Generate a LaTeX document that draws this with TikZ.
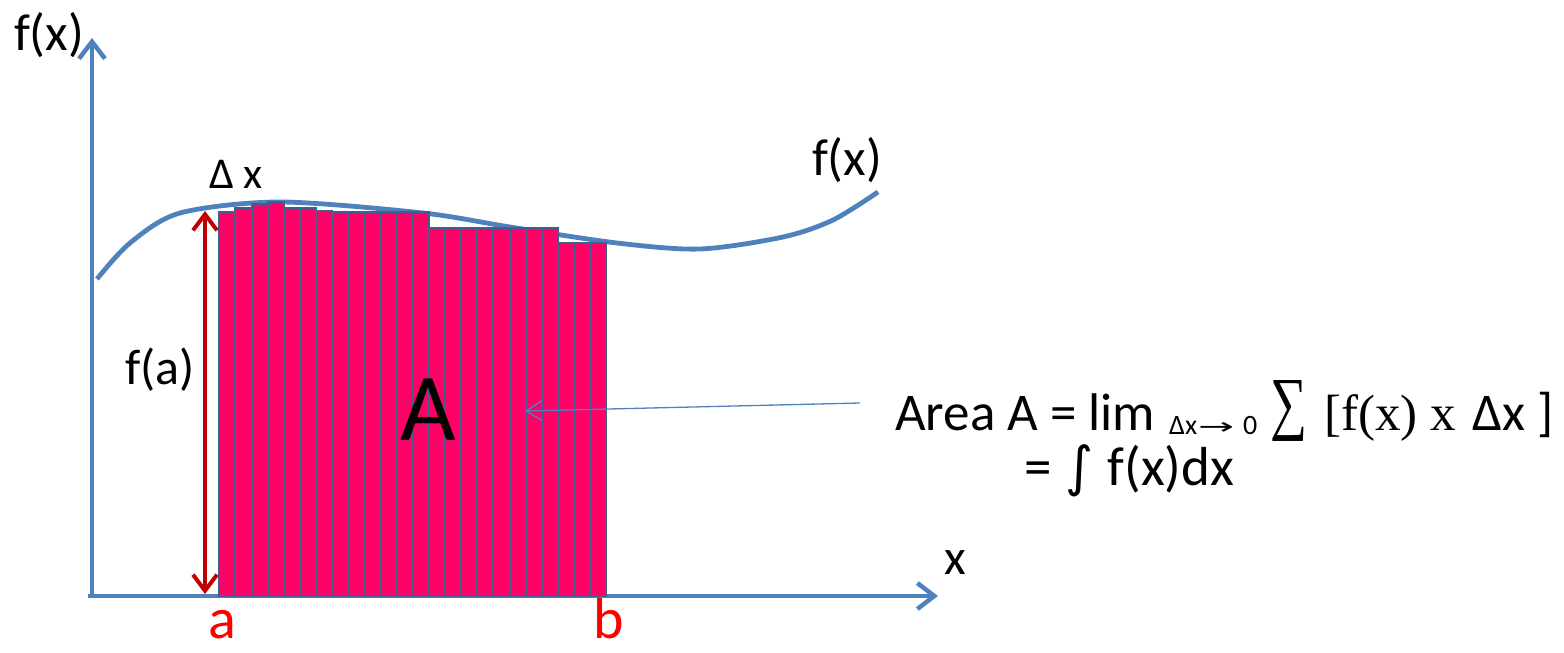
\documentclass[tikz,border=0pt]{standalone}
\usepackage{fontspec}
\usepackage{graphicx}
\setmainfont{Carlito}
\newfontfamily\tnr{Liberation Serif}
\newfontfamily\dv{DejaVu Sans}
\usetikzlibrary{arrows.meta}
\definecolor{axisblue}{HTML}{4F81BD}
\definecolor{barline}{HTML}{3F5F8F}
\definecolor{barfill}{HTML}{FF0066}
\definecolor{darkred}{HTML}{C00000}
\definecolor{labelred}{HTML}{FF0000}
\newcommand{\fsz}[1]{\fontsize{#1}{#1}\selectfont}
\tikzset{
  axis/.style={draw=axisblue, line width=4.5pt, -{Straight Barb[length=17pt, width=26pt]}},
  curve/.style={draw=axisblue, line width=4.8pt},
  bar/.style={draw=barline, fill=barfill, line width=2pt},
  harrow/.style={draw=darkred, line width=4pt, {Straight Barb[length=16pt, width=24pt]}-{Straight Barb[length=16pt, width=24pt]}},
  pointer/.style={draw=axisblue, line width=1.3pt, -{Straight Barb[length=16pt, width=20pt]}},
  lbl/.style={inner sep=0pt, text=black},
}
\begin{document}
\begin{tikzpicture}[x=1pt, y=-1pt]
\useasboundingbox (0,0) rectangle (1564,653);
% axes
\coordinate (origin) at (92,597);
\coordinate (ytop) at (92,38);
\coordinate (xend) at (938,596);
\draw[axis] (origin) -- (ytop);
\draw[axis] (88,596) -- (xend);
% curve
\draw[curve] plot[smooth, tension=0.5] coordinates {(97,279) (130,243) (180,213) (280,202) (423,213) (510,227) (617,243) (700,249) (783,237) (833,220) (878,192)};
% bars
\foreach \t [count=\i from 0] in {211.7,208.3,204,202.3,208.3,208.3,210.7,212.3,212.3,212.3,212.3,212.3,212.3,227.7,227.7,227.7,227.7,227.7,227.7,227.7,227.7,243.3,243.3,243.3}
  \draw[bar] ({219.3+\i*16.125},596) rectangle ({219.3+(\i+1)*16.125},\t);
% f(a) arrow
\coordinate (fat) at (205,211);
\coordinate (fab) at (205,594);
\draw[harrow] (fab) -- (fat);
% labels
\node[lbl] (fxl) at (49,35) {\fsz{52}f(x)};
\node[lbl] (fxr) at (847,160) {\fsz{52}f(x)};
\node[lbl] (dx) at (236,174) {\fsz{44}Δ x};
\node[lbl] (fa) at (160,370) {\fsz{50}f(a)};
\node[lbl] (xl) at (955,563) {\fsz{50}x};
\node[lbl, text=labelred] (al) at (222,625) {\fsz{58}a};
\node[lbl, text=labelred] (bl) at (609,619) {\fsz{58}b};
\node[lbl] (Abig) at (428,410) {\fsz{96}A};
% formula, line 1
\node[lbl, anchor=base west] (f1a) at (895,430) {\fsz{53}Area A = lim};
\node[lbl, anchor=base west] (f1b) at (1169,434) {\fsz{28}Δx\hspace{1pt}\resizebox{36pt}{12pt}{\dv →}\hspace{9pt}0};
\node[lbl] (f1c) at (1289,411) {\resizebox{37pt}{46pt}{\tnr ∑}};
\node[lbl, anchor=base west] (f1d) at (1324,430) {\tnr\fsz{51}[f(x) x};
\node[lbl, anchor=base west] (f1e) at (1472,430) {\fsz{53}Δx ]};
% formula, line 2
\node[lbl, anchor=base west] (f2) at (1024,485) {\fsz{55}=\hspace{14pt}{\dv\fsz{54}∫}\hspace{14pt}f(x)dx};
% pointer
\coordinate (Apt) at (525,411);
\draw[pointer] (860,403) -- (Apt);
\end{tikzpicture}
\end{document}
